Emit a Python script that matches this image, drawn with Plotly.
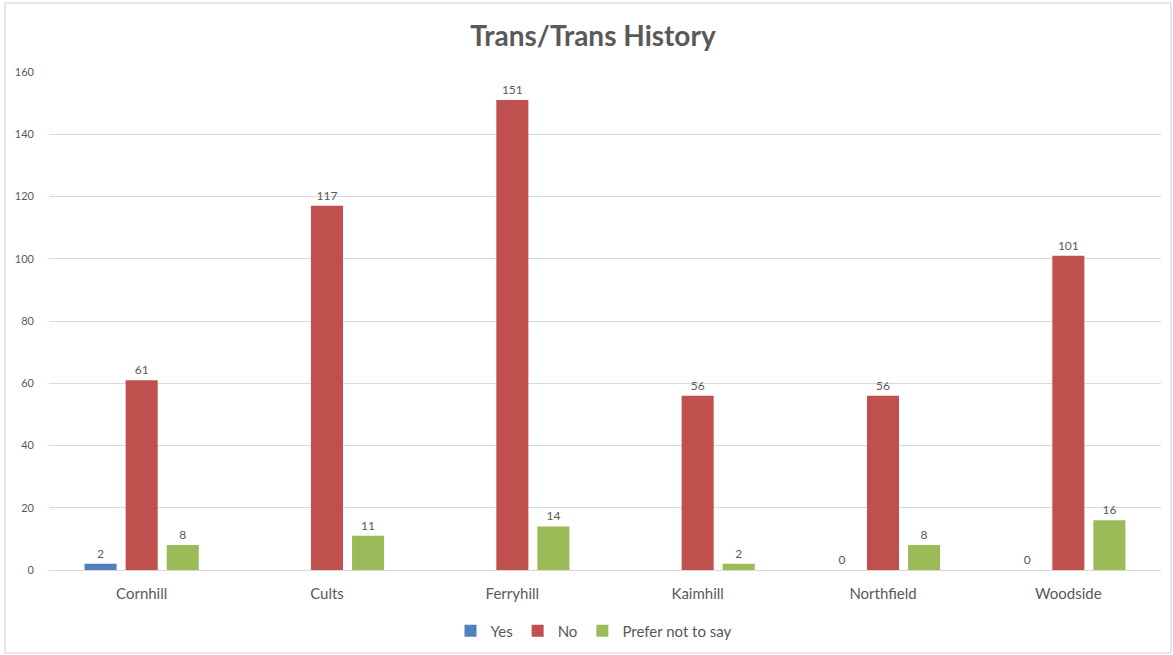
import plotly.graph_objects as go

categories = ["Cornhill", "Cults", "Ferryhill", "Kaimhill", "Northfield", "Woodside"]
yes_vals = [2, None, None, None, 0, 0]
no_vals = [61, 117, 151, 56, 56, 101]
prefer_vals = [8, 11, 14, 2, 8, 16]
y_ticks = [0, 20, 40, 60, 80, 100, 120, 140, 160]

series = [
    ("Yes", yes_vals, "#4F81BD"),
    ("No", no_vals, "#C0504D"),
    ("Prefer not to say", prefer_vals, "#9BBB59"),
]

FONT = "Lato, Open Sans, Liberation Sans, sans-serif"
GRAY = "#595959"

fig = go.Figure()
for name, vals, color in series:
    fig.add_trace(go.Bar(
        name=name, x=categories, y=vals,
        marker=dict(color=color, line=dict(width=0)),
        text=[("" if v is None else str(v)) for v in vals],
        textposition="outside", cliponaxis=False,
        textfont=dict(size=12, color=GRAY, family=FONT),
    ))

W, H = 1173, 655
L, R, T, B = 49, W - 1161, 72, H - 570
pw, ph = W - L - R, H - T - B

fig.update_layout(
    width=W, height=H,
    margin=dict(l=L, r=R, t=T, b=B, autoexpand=False),
    paper_bgcolor="white", plot_bgcolor="white",
    barmode="group", bargap=0.335, bargroupgap=0.22,
    font=dict(family=FONT, color=GRAY),
    title=dict(text="<b>Trans/Trans History</b>", x=593 / W, xanchor="center",
               y=1 - 36 / H, yanchor="middle",
               font=dict(size=28, color=GRAY, family=FONT)),
    showlegend=True,
    legend=dict(orientation="h", x=(594 - L) / pw, xanchor="center",
                y=-(631 - 570) / ph, yanchor="middle",
                font=dict(size=15, color=GRAY, family=FONT),
                itemwidth=30, traceorder="normal"),
    xaxis=dict(showgrid=False, showline=True, linecolor="#D9D9D9", linewidth=1,
               ticks="", ticklabelstandoff=10,
               tickfont=dict(size=15, color=GRAY, family=FONT)),
    yaxis=dict(range=[0, 160], tickvals=y_ticks, showgrid=True, gridcolor="#D9D9D9",
               gridwidth=1, zeroline=False, showline=False, ticks="",
               tickfont=dict(size=11, color=GRAY, family=FONT), ticklabelstandoff=14),
    shapes=[dict(type="rect", xref="paper", yref="paper",
                 x0=(5 - L) / pw, x1=(1171 - L) / pw,
                 y0=(570 - 653) / ph, y1=(570 - 3) / ph,
                 line=dict(color="#D0D0D0", width=1), fillcolor="rgba(0,0,0,0)",
                 layer="below")],
)

fig.write_html("out.html", config={"displayModeBar": False},
               post_script="document.body.style.margin='0';")
